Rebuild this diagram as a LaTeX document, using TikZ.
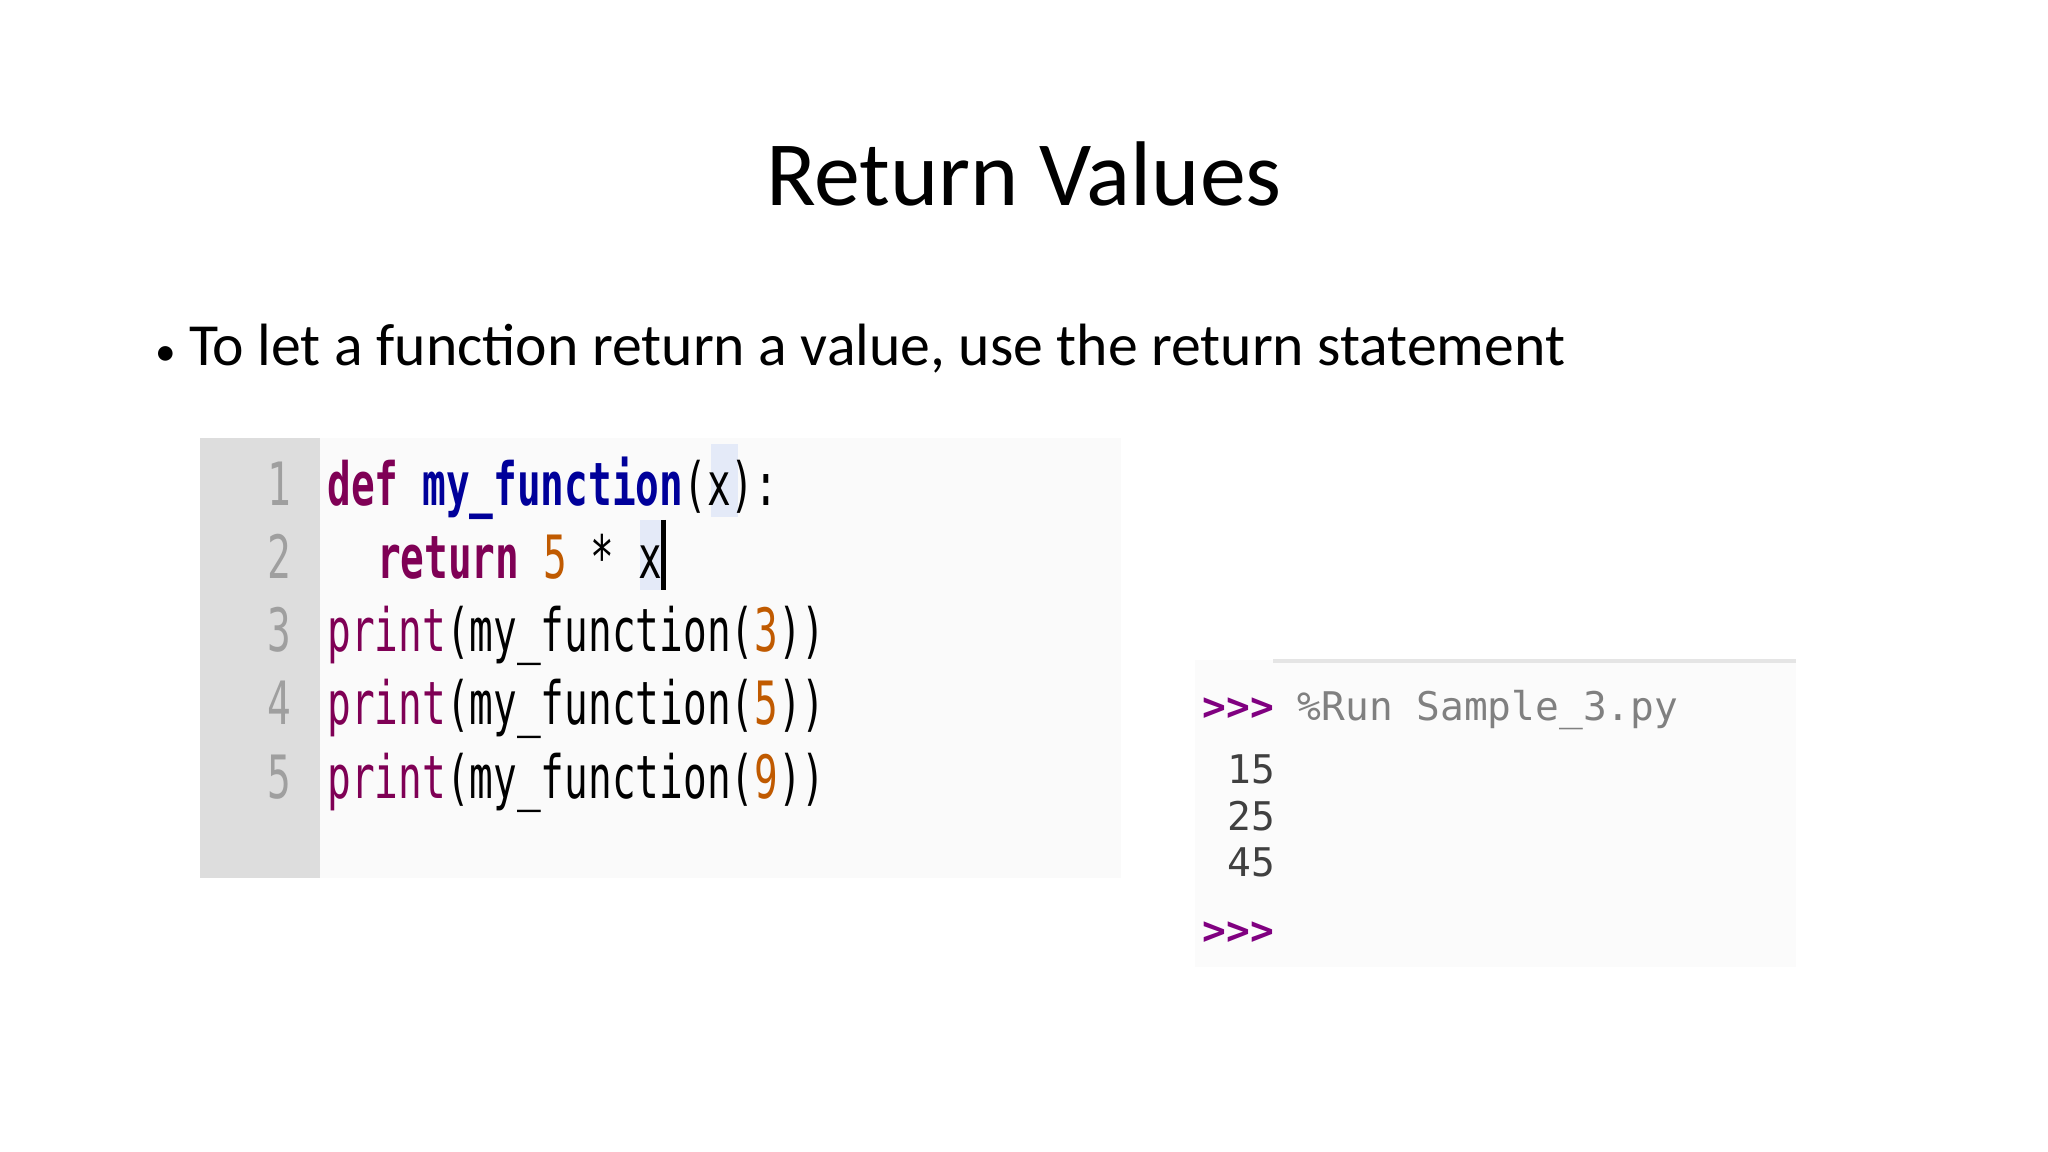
\documentclass[tikz,border=0pt]{standalone}
\usepackage{fontspec}
\setmainfont{Carlito}
\newfontfamily\codefont[FakeStretch=0.66]{DejaVu Sans Mono}
\newfontfamily\shellfont{DejaVu Sans Mono}
\usepackage{tikz}
\definecolor{kwcol}{HTML}{7F0055}
\definecolor{fncol}{HTML}{00009A}
\definecolor{numcol}{HTML}{C05A00}
\definecolor{promptcol}{HTML}{800080}
\definecolor{gutcol}{HTML}{DDDDDD}
\definecolor{selcol}{HTML}{E4EAF8}
\tikzset{
  codeline/.style={anchor=base west,inner sep=0pt,font=\codefont\fontsize{13pt}{13pt}\selectfont},
  lineno/.style={anchor=base east,inner sep=0pt,text=gray!75,font=\codefont\fontsize{13pt}{13pt}\selectfont},
  shell/.style={anchor=base west,inner sep=0pt,font=\shellfont\fontsize{8.6pt}{8.6pt}\selectfont}
}
\newcommand{\kw}[1]{\textcolor{kwcol}{\textbf{#1}}}
\newcommand{\fn}[1]{\textcolor{fncol}{\textbf{#1}}}
\newcommand{\nm}[1]{\textcolor{numcol}{#1}}
\begin{document}
\begin{tikzpicture}[x=0.01cm,y=-0.01cm]
\useasboundingbox (0,0) rectangle (1568,882);
% title and bullet
\node[inner sep=0pt,font=\fontsize{20pt}{20pt}\selectfont] (title) at (784,133) {Return Values};
\node[anchor=base west,inner sep=0pt,font=\fontsize{13pt}{13pt}\selectfont] (bullet) at (118,280) {{\small\textbullet}\ To let a function return a value, use the return statement};
% code panel
\fill[black!2] (153,335) rectangle (858,672);
\fill[gutcol] (153,335) rectangle (245,672);
\fill[selcol] (544,340) rectangle (565,396);
\fill[selcol] (490,398) rectangle (510,452);
\draw[line width=1.2pt] (508,398) -- (508,452);
\foreach \n/\y in {1/387,2/443,3/499,4/555,5/611}
  \node[lineno] (no\n) at (224,\y) {\n};
\node[codeline] (l1) at (250,387) {\kw{def} \fn{my\_function}(x):};
\node[codeline] (l2) at (288,443) {\kw{return} \nm{5} * x};
\foreach \n/\v/\y in {3/3/499,4/5/555,5/9/611}
  \node[codeline] (l\n) at (250,\y) {\textcolor{kwcol}{print}(my\_function(\nm{\v}))};
% shell panel
\fill[black!1.5] (915,505) rectangle (1375,740);
\draw[black!10,line width=0.8pt] (975,506) -- (1375,506);
\node[shell] (run) at (920,552) {\textcolor{promptcol}{\textbf{>>>}} \textcolor{gray}{\%Run Sample\_3.py}};
\foreach \v/\y in {15/600,25/636,45/671}
  \node[shell,text=black!75] (out\v) at (939,\y) {\v};
\node[shell] (prompt) at (920,723) {\textcolor{promptcol}{\textbf{>>>}}};
\end{tikzpicture}
\end{document}
